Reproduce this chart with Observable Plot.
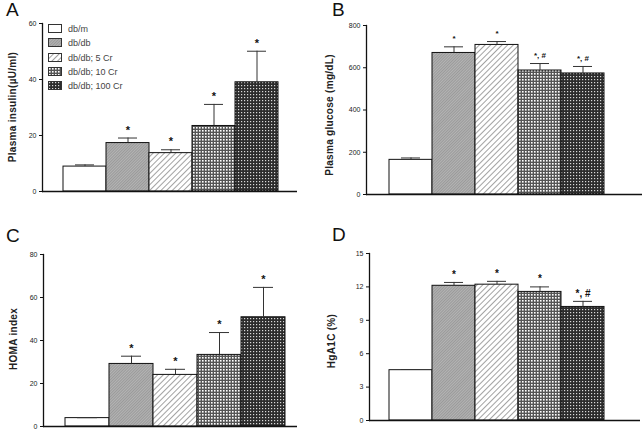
<!DOCTYPE html>
<html>
<head>
<meta charset="utf-8">
<script src="https://cdn.jsdelivr.net/npm/d3@7"></script>
<script src="https://cdn.jsdelivr.net/npm/@observablehq/plot@0.6"></script>
<style>
  body { margin: 0; background: #fff; }
  #root { position: relative; width: 643px; height: 430px; overflow: hidden; font-family: "Liberation Sans", Arial, sans-serif; }
  .panel { position: absolute; }
  .letter { position: absolute; font-size: 19px; color: #111; font-family: "Liberation Sans", Arial, sans-serif; }
  .ylab { position: absolute; font-size: 10px; font-weight: bold; color: #222; white-space: nowrap; letter-spacing: 0.3px; transform: translate(-50%, -50%) rotate(-90deg); }
  #legend { position: absolute; left: 48px; top: 22px; font-size: 9px; color: #444; }
  #legend .row { display: flex; align-items: center; height: 14.3px; }
  #legend svg { margin-right: 5px; }
</style>
</head>
<body>
<svg width="0" height="0" style="position:absolute">
  <defs>
    <pattern id="pDb" width="2" height="2" patternUnits="userSpaceOnUse" patternTransform="rotate(45)">
      <rect width="2" height="2" fill="#b4b4b4"/>
      <line x1="0" y1="0" x2="0" y2="2" stroke="#7a7a7a" stroke-width="0.9"/>
    </pattern>
    <pattern id="p5" width="4" height="4" patternUnits="userSpaceOnUse" patternTransform="rotate(45)">
      <rect width="4" height="4" fill="#fff"/>
      <line x1="0" y1="0" x2="0" y2="4" stroke="#555" stroke-width="1.1"/>
    </pattern>
    <pattern id="p10" width="3" height="3" patternUnits="userSpaceOnUse">
      <rect width="3" height="3" fill="#555"/>
      <rect x="1" y="1" width="1.6" height="1.6" fill="#fff"/>
    </pattern>
    <pattern id="p100" width="3" height="3" patternUnits="userSpaceOnUse">
      <rect width="3" height="3" fill="#2c2c2c"/>
      <rect x="1" y="1" width="1.2" height="1.2" fill="#d8d8d8"/>
    </pattern>
  </defs>
</svg>
<div id="root"></div>
<script>
const groups = ["db/m", "db/db", "db/db; 5 Cr", "db/db; 10 Cr", "db/db; 100 Cr"];
const groupFills = ["#ffffff", "url(#pDb)", "url(#p5)", "url(#p10)", "url(#p100)"];

const insulinMean = [8.9, 17.3, 13.7, 23.4, 39.0];
const insulinSem = [0.6, 1.8, 1.2, 7.7, 11.1];
const insulinSig = ["", "*", "*", "*", "*"];
const insulinTicks = [0, 20, 40, 60];

const glucoseMean = [164, 670, 708, 587, 573];
const glucoseSem = [9, 29, 16, 33, 33];
const glucoseSig = ["", "*", "*", "*, #", "*, #"];
const glucoseTicks = [0, 200, 400, 600, 800];

const homaMean = [3.9, 29.1, 24.0, 33.3, 50.8];
const homaSem = [0.2, 3.6, 2.6, 10.4, 13.9];
const homaSig = ["", "*", "*", "*", "*"];
const homaTicks = [0, 20, 40, 60, 80];

const hba1cMean = [4.52, 12.1, 12.2, 11.55, 10.2];
const hba1cSem = [0.06, 0.3, 0.3, 0.45, 0.5];
const hba1cSig = ["", "*", "*", "*", "*, #"];
const hba1cTicks = [0, 3, 6, 9, 12, 15];

const root = document.getElementById("root");

function panel(cfg) {
  const data = groups.map((g, i) => ({g, m: cfg.mean[i], s: cfg.sem[i], sig: cfg.sig[i]}));
  const ymax = cfg.ticks[cfg.ticks.length - 1];
  const chart = Plot.plot({
    width: cfg.w,
    height: cfg.h,
    marginLeft: cfg.axisX,
    marginRight: cfg.w - cfg.axisRight,
    marginTop: cfg.yTop,
    marginBottom: cfg.h - cfg.yZero,
    style: {fontFamily: "Liberation Sans, Arial, sans-serif", color: "#222", background: "transparent"},
    x: {domain: groups, range: cfg.barRange, padding: 0, axis: null},
    y: {domain: [0, ymax]},
    color: {type: "ordinal", domain: groups, range: groupFills},
    marks: [
      Plot.barY(data, {x: "g", y: "m", fill: "g", stroke: "#111", strokeWidth: 1}),
      Plot.ruleX(data, {x: "g", y1: "m", y2: d => d.m + d.s, stroke: "#333", strokeWidth: 1}),
      Plot.tickY(data, {x: "g", y: d => d.m + d.s, stroke: "#333", strokeWidth: 1, insetLeft: 12, insetRight: 12}),
      Plot.text(data, {x: "g", y: d => d.m + d.s, text: "sig", dy: -8, fontSize: cfg.starSize, fontWeight: "bold", fill: "#111"}),
      Plot.axisY({ticks: cfg.ticks, tickSize: 3, tickPadding: 3, fontSize: 7, label: null, stroke: "#111"}),
      Plot.frame({anchor: "left", stroke: "#111", strokeWidth: 1.3}),
      Plot.ruleY([0], {stroke: "#111", strokeWidth: 1.3})
    ]
  });
  const wrap = document.createElement("div");
  wrap.className = "panel";
  wrap.style.left = cfg.left + "px";
  wrap.style.top = cfg.top + "px";
  wrap.appendChild(chart);
  root.appendChild(wrap);

  const letter = document.createElement("div");
  letter.className = "letter";
  letter.textContent = cfg.letter;
  letter.style.left = cfg.letterPos[0] + "px";
  letter.style.top = cfg.letterPos[1] + "px";
  root.appendChild(letter);

  const yl = document.createElement("div");
  yl.className = "ylab";
  yl.textContent = cfg.ylabel;
  yl.style.left = cfg.ylabPos[0] + "px";
  yl.style.top = cfg.ylabPos[1] + "px";
  root.appendChild(yl);
}

panel({left: 0, top: 0, w: 320, h: 215, axisX: 42, axisRight: 297, yTop: 23, yZero: 191,
  barRange: [63, 278], ticks: insulinTicks, mean: insulinMean, sem: insulinSem, sig: insulinSig,
  starSize: 11, letter: "A", letterPos: [6, -1], ylabel: "Plasma insulin(\u00b5U/ml)", ylabPos: [12, 107]});

panel({left: 320, top: 0, w: 323, h: 215, axisX: 46, axisRight: 322, yTop: 25, yZero: 194,
  barRange: [68, 285], ticks: glucoseTicks, mean: glucoseMean, sem: glucoseSem, sig: glucoseSig,
  starSize: 8, letter: "B", letterPos: [332, -1], ylabel: "Plasma glucose (mg/dL)", ylabPos: [329, 115]});

panel({left: 0, top: 215, w: 320, h: 215, axisX: 43, axisRight: 297, yTop: 39, yZero: 211,
  barRange: [64, 285], ticks: homaTicks, mean: homaMean, sem: homaSem, sig: homaSig,
  starSize: 11, letter: "C", letterPos: [6, 225], ylabel: "HOMA index", ylabPos: [13, 339]});

panel({left: 320, top: 215, w: 323, h: 215, axisX: 49, axisRight: 320, yTop: 38, yZero: 205,
  barRange: [68, 284], ticks: hba1cTicks, mean: hba1cMean, sem: hba1cSem, sig: hba1cSig,
  starSize: 10, letter: "D", letterPos: [332, 224], ylabel: "HgA1C (%)", ylabPos: [331, 341]});

// legend inside panel A
const legend = document.createElement("div");
legend.id = "legend";
groups.forEach((g, i) => {
  const row = document.createElement("div");
  row.className = "row";
  row.innerHTML = `<svg width="15" height="10"><rect x="0.5" y="0.5" width="13" height="8" fill="${groupFills[i]}" stroke="#333" stroke-width="1"/></svg><span>${g}</span>`;
  legend.appendChild(row);
});
root.appendChild(legend);
</script>
</body>
</html>
